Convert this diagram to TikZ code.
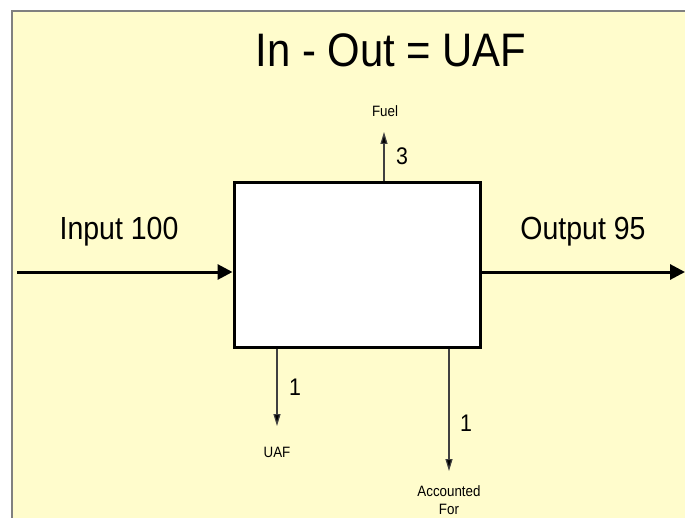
\documentclass[tikz,border=0pt]{standalone}
\usepackage{fontspec}
\setmainfont{Liberation Sans}
\newfontfamily\condfont[FakeStretch=0.89]{Liberation Sans}
\usepackage{xcolor}
\usetikzlibrary{arrows.meta,positioning}
\definecolor{slidebg}{RGB}{255,252,204}
\definecolor{framegray}{RGB}{128,128,128}

\begin{document}
\begin{tikzpicture}[
  x=1bp,y=-1bp,
  proc/.style  ={draw,line width=3bp,fill=white,minimum width=246bp,
                 minimum height=164bp,inner sep=0pt},
  big/.style   ={font=\condfont\fontsize{47bp}{50bp}\selectfont,inner sep=0pt},
  flowlbl/.style={font=\condfont\fontsize{32bp}{36bp}\selectfont,inner sep=0pt},
  qty/.style   ={font=\condfont\fontsize{24bp}{26bp}\selectfont,inner sep=0pt},
  small/.style ={font=\condfont\fontsize{15bp}{18bp}\selectfont,inner sep=0pt,align=center},
  main/.style  ={line width=3bp,-{Triangle[length=15bp,width=15bp]}},
  side/.style  ={line width=1.2bp,draw=black!75,-{Triangle[length=12bp,width=7bp,fill=black]}}]

\useasboundingbox (0,0) rectangle (685,518);
\fill[white] (0,0) rectangle (685,518);
\fill[slidebg] (12,11) rectangle (685,518);
\draw[framegray,line width=2bp] (12,518) -- (12,11) -- (685,11);

% ---------- title ----------
\node[big] (title) at (391,50) {In - Out = UAF};

% ---------- process box ----------
\node[proc] (box) at (357,265) {};

% ---------- main flows ----------
\coordinate (inL)  at (17,272);
\coordinate (outR) at (685,272);
\draw[main] (inL) -- (inL -| box.west);
\draw[main] (outR -| box.east) -- (outR);
\node[flowlbl] (inlbl)  at (119,232) {Input 100};
\node[flowlbl] (outlbl) at (583,232) {Output 95};

% ---------- side flows ----------
\coordinate (fuelTip) at (384,132);
\coordinate (uafTip)  at (277,426);
\coordinate (accTip)  at (449,471);
\draw[side] (fuelTip |- box.north) -- (fuelTip);
\draw[side] (uafTip |- box.south) -- (uafTip);
\draw[side] (accTip |- box.south) -- (accTip);

\node[small] (fuel) at (385,111) {Fuel};
\node[qty]   (q3)   at (402,156) {3};
\node[qty]   (q1a)  at (295,387) {1};
\node[small] (uaf)  at (277,452) {UAF};
\node[qty]   (q1b)  at (466,423) {1};
\node[small,anchor=north] (acc) at (449,485) {Accounted\\For};

\end{tikzpicture}
\end{document}
